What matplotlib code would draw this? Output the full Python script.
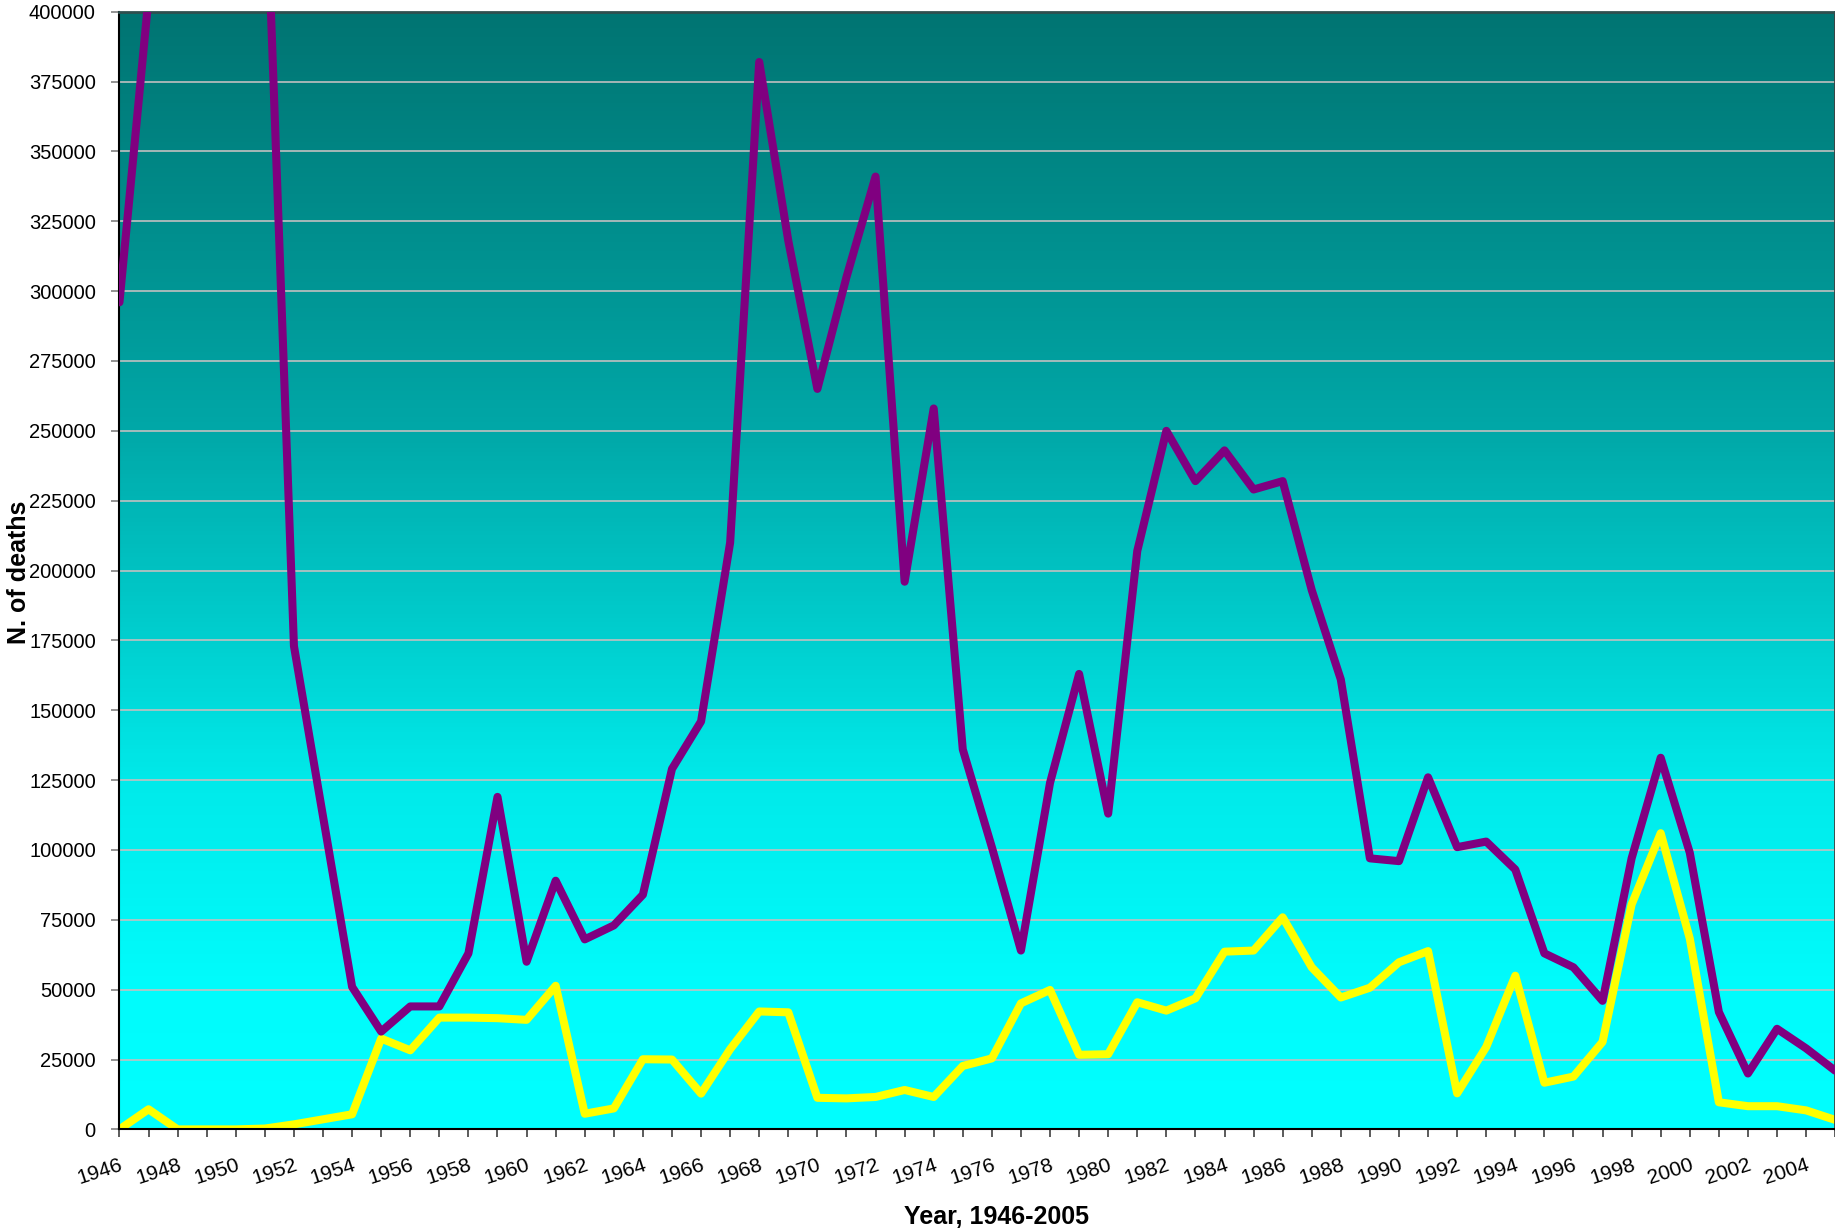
import numpy as np
import matplotlib
matplotlib.use("Agg")
import matplotlib.pyplot as plt
from matplotlib.colors import LinearSegmentedColormap

plt.rcParams['font.family'] = ['Liberation Sans', 'DejaVu Sans']

years = list(range(1946, 2006))

# purple series (1948-1951 run off the top of the chart)
total_deaths = [
    296000, 405000, 500000, 520000, 650000, 460000, 173000, 112000, 51000, 35000,
    44000, 44000, 63000, 119000, 60000, 89000, 68000, 73000, 84000, 129000,
    146000, 210000, 382000, 318000, 265000, 305000, 341000, 196000, 258000, 136000,
    101000, 64000, 124000, 163000, 113000, 207000, 250000, 232000, 243000, 229000,
    232000, 193000, 161000, 97000, 96000, 126000, 101000, 103000, 93000, 63000,
    58000, 46000, 97000, 133000, 99000, 42000, 20000, 36000, 29000, 21000,
]

# yellow series
subset_deaths = [
    0, 7200, 0, 0, 0, 300, 1800, 3600, 5400, 32500,
    28300, 40000, 40000, 39800, 39200, 51400, 5600, 7500, 25100, 25000,
    12800, 28700, 42200, 41900, 11300, 11100, 11600, 14100, 11600, 22700,
    25400, 45100, 49900, 26700, 26900, 45500, 42500, 46900, 63600, 64000,
    75900, 58000, 47200, 50700, 59800, 63800, 12900, 29500, 55000, 16700,
    18900, 31300, 80500, 106000, 68300, 9700, 8300, 8300, 6800, 3400,
]

y_ticks = list(range(0, 400001, 25000))
x_labels = list(range(1946, 2005, 2))

fig = plt.figure(figsize=(18.35, 12.3), dpi=100)
ax = fig.add_axes([0.0651, 0.0818, 0.935, 0.9087])

# background gradient, dark teal at top to cyan at the bottom
grad = LinearSegmentedColormap.from_list("bg", [
    (0.0, "#00ffff"), (0.125, "#00fcfc"), (0.31, "#00eaea"),
    (0.625, "#00a8a8"), (0.75, "#009695"), (1.0, "#007472"),
])
ax.imshow(np.linspace(0, 1, 256).reshape(-1, 1), cmap=grad, origin="lower",
          aspect="auto", extent=[1946, 2005, 0, 400000], zorder=0)

for t in y_ticks[1:]:
    ax.axhline(t, color="#c0c0c0", lw=1.2, zorder=1)

ax.plot(years, total_deaths, color="#800080", lw=5.8, zorder=3,
        solid_joinstyle="round", solid_capstyle="round")
ax.plot(years, subset_deaths, color="#ffff00", lw=5.8, zorder=2,
        solid_joinstyle="round", solid_capstyle="round")

ax.set_xlim(1946, 2005)
ax.set_ylim(0, 400000)

ax.set_yticks(y_ticks)
ax.set_yticklabels([str(t) for t in y_ticks], fontsize=14.5)
ax.set_xticks(years)
ax.set_xticklabels([str(y) if y in x_labels else "" for y in years],
                   fontsize=15, rotation=18, ha="right", va="top",
                   rotation_mode="anchor")
ax.tick_params(axis="x", length=6, width=1.2, color="#404040", pad=13)
ax.tick_params(axis="y", length=6, width=1.2, color="#808080", pad=11)

for side in ["left", "bottom"]:
    ax.spines[side].set_color("black")
    ax.spines[side].set_linewidth(1.5)
ax.spines["top"].set_color("#2f4f4f")
ax.spines["top"].set_linewidth(2)
ax.spines["right"].set_color("#404040")
ax.spines["right"].set_linewidth(2)

fig.text(0.543, 0.0045, "Year, 1946-2005", fontsize=18, fontweight="bold",
         ha="center", va="baseline")
fig.text(0.004, 0.535, "N. of deaths", rotation=90, fontsize=18,
         fontweight="bold", ha="left", va="center")

fig.savefig("out.png", dpi=100)
